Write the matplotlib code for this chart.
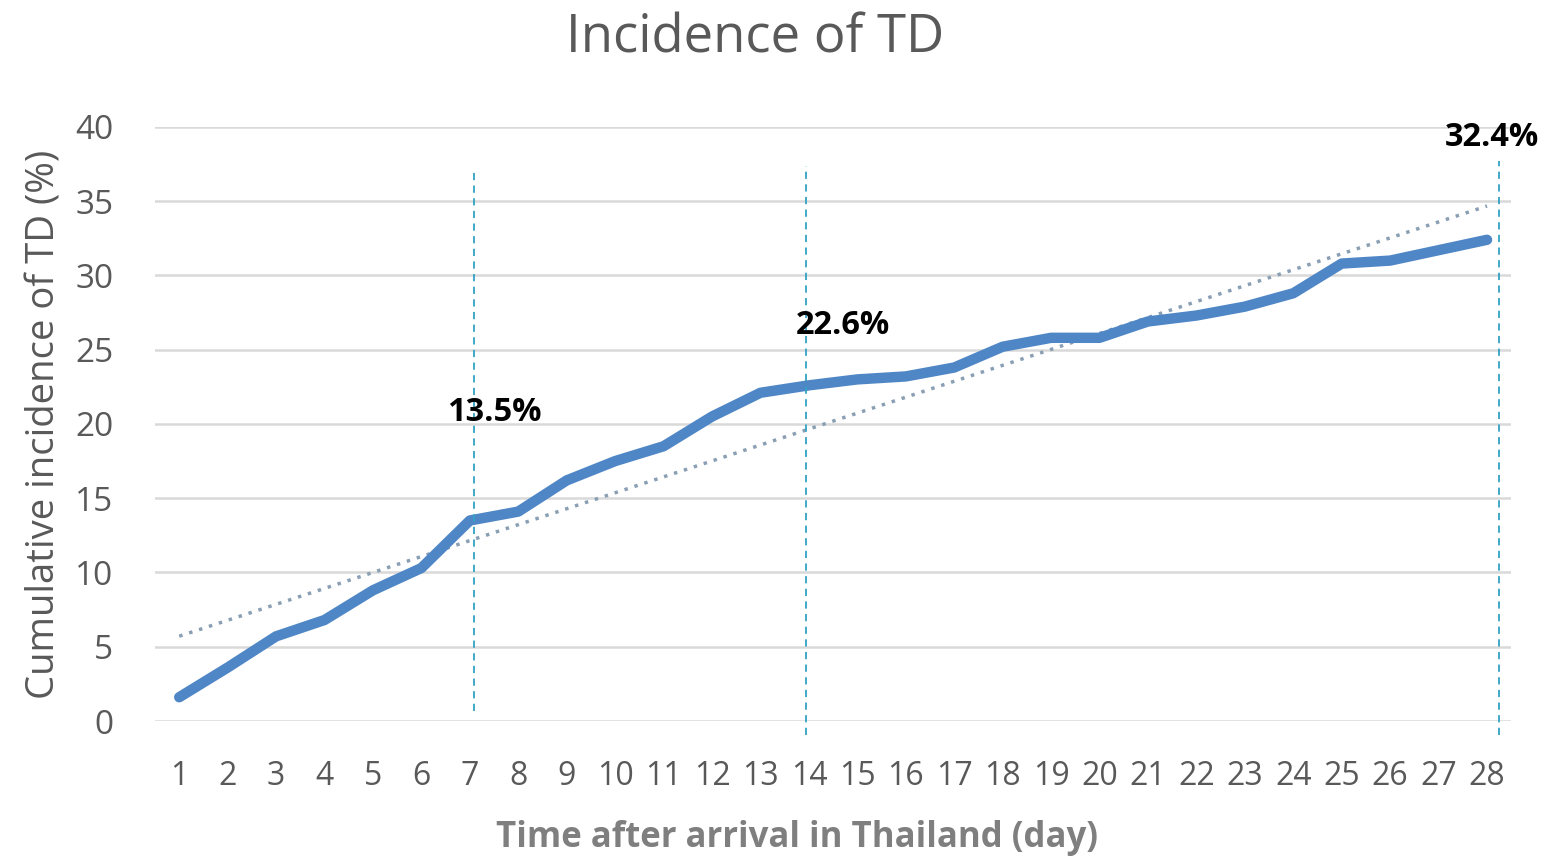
import matplotlib.pyplot as plt
import numpy as np

days = list(range(1, 29))
incidence = [1.6, 3.6, 5.7, 6.8, 8.8, 10.3, 13.5, 14.1, 16.2, 17.5, 18.5, 20.5, 22.1, 22.6,
             23.0, 23.2, 23.8, 25.2, 25.8, 25.8, 26.9, 27.3, 27.9, 28.8, 30.8, 31.0, 31.7, 32.4]
marked_days = [7, 14, 28]
marked_labels = ['13.5%', '22.6%', '32.4%']

fig = plt.figure(figsize=(15.5, 8.61), dpi=100)
ax = fig.add_axes([0.1, 0.1626, 0.875, 0.69])

# trend line from a linear fit
coef = np.polyfit(days, incidence, 1)
trend = np.polyval(coef, days)
ax.plot(days, trend, linestyle=(0, (1, 2)), color='#8a9fb4', linewidth=2.5, zorder=2)
ax.plot(days, incidence, color='#4f86c6', linewidth=7.5, solid_capstyle='round', zorder=3)

# hand-placed guide lines (slightly off the day positions, as in the original)
line_x = [7.08, 13.93, 28.25]
for x, top, bottom in zip(line_x, [37.2, 37.4, 37.7], [0.7, -0.95, -0.95]):
    ax.plot([x, x], [bottom, top], linestyle=(0, (4, 3)), color='#31a2c4', linewidth=1.3,
            clip_on=False, zorder=4)

label_pos = [(7.5, 20.8), (14.7, 26.6), (28.1, 39.3)]
for (x, y), t in zip(label_pos, marked_labels):
    ax.text(x, y, t, ha='center', va='center', fontsize=23.5, fontweight='bold',
            family='Open Sans', color='black', zorder=5)

ax.set_xlim(0.5, 28.5)
ax.set_ylim(0, 40)
ax.set_xticks(days)
ax.set_yticks(range(0, 41, 5))
ax.grid(axis='y', color='#d9d9d9', linewidth=1.8)
ax.set_axisbelow(True)
for s in ax.spines.values():
    s.set_visible(False)
ax.tick_params(length=0, labelcolor='#595959')
for lab in ax.get_xticklabels():
    lab.set_fontfamily('Open Sans')
    lab.set_fontsize(23)
for lab in ax.get_yticklabels():
    lab.set_fontfamily('Open Sans')
    lab.set_fontsize(24)
ax.tick_params(axis='x', pad=28)
ax.tick_params(axis='y', pad=30)

ax.set_ylabel('Cumulative incidence of TD (%)', fontsize=27.5, color='#595959',
              family='Open Sans', labelpad=8)
fig.text(0.514, 0.027, 'Time after arrival in Thailand (day)', ha='center', va='center',
         fontsize=25, fontweight='bold', color='#7f7f7f', family='Open Sans')
fig.text(0.487, 0.955, 'Incidence of TD', ha='center', va='center', fontsize=38,
         color='#595959', family='Open Sans')

fig.savefig('out.png', dpi=100)
